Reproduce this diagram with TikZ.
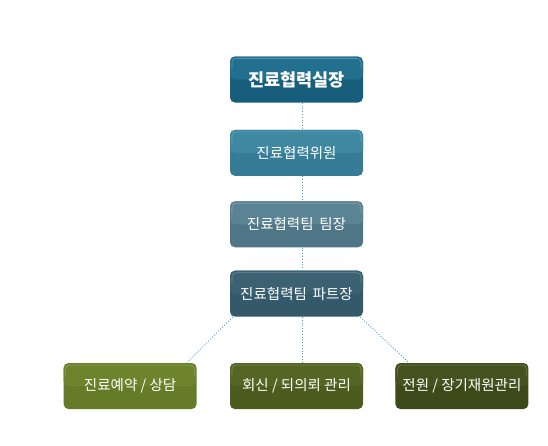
\documentclass[tikz,border=0pt]{standalone}
\usepackage{fontspec}
\setmainfont{Noto Sans CJK KR}
\usetikzlibrary{positioning}
\definecolor{ChiefTop}{HTML}{22708D}
\definecolor{ChiefBot}{HTML}{175E7C}
\definecolor{CommTop}{HTML}{3E88A2}
\definecolor{CommBot}{HTML}{367C96}
\definecolor{TeamTop}{HTML}{5A8393}
\definecolor{TeamBot}{HTML}{4F7686}
\definecolor{PartTop}{HTML}{3B6172}
\definecolor{PartBot}{HTML}{33596A}
\definecolor{ResTop}{HTML}{6E842C}
\definecolor{ResBot}{HTML}{667B27}
\definecolor{RepTop}{HTML}{546524}
\definecolor{RepBot}{HTML}{4C5C1F}
\definecolor{TrnTop}{HTML}{44521F}
\definecolor{TrnBot}{HTML}{3C4919}
\definecolor{LinkBlue}{HTML}{4A9AD6}

\begin{document}
\begin{tikzpicture}[
    x=1pt, y=1pt,
    unitbox/.style 2 args={rectangle, rounded corners=5pt, minimum width=133pt, minimum height=46pt,
                text=white, align=center, font=\fontsize{14.5}{16}\selectfont, inner sep=0pt,
                fill=#2, path picture={
                    \fill[#1] (path picture bounding box.north west) rectangle (path picture bounding box.east);
                    \draw[white, opacity=0.25, line width=0.6pt, rounded corners=4pt]
                        ([shift={(2pt,-12pt)}]path picture bounding box.north west) |-
                        ([shift={(-2pt,-2pt)}]path picture bounding box.north east) -- ++(0,-10pt);
                }},
    link/.style={draw=LinkBlue, dash pattern=on 1pt off 1.8pt, line width=0.9pt}
]
    \useasboundingbox (0,0) rectangle (548,-445);

    % Chain of command
    \node[unitbox={ChiefTop}{ChiefBot}, font=\fontsize{17.5}{19}\selectfont\bfseries] (chief) at (296.5,-79.5) {진료협력실장};
    \node[unitbox={CommTop}{CommBot}, below=27pt of chief] (committee) {진료협력위원};
    \node[unitbox={TeamTop}{TeamBot}, below=25pt of committee] (teamlead) {진료협력팀\hspace{0.4em}팀장};
    \node[unitbox={PartTop}{PartBot}, below=23pt of teamlead] (partlead) {진료협력팀\hspace{0.4em}파트장};

    % Working units
    \node[unitbox={RepTop}{RepBot}, below=46pt of partlead] (reply) {회신 / 되의뢰 관리};
    \node[unitbox={ResTop}{ResBot}, left=33pt of reply] (reserve) {진료예약 / 상담};
    \node[unitbox={TrnTop}{TrnBot}, right=32pt of reply] (transfer) {전원 / 장기재원관리};

    % Connectors
    \draw[link] ([xshift=5.5pt]chief.south) -- ([xshift=5.5pt]committee.north);
    \draw[link] ([xshift=5.5pt]committee.south) -- ([xshift=5.5pt]teamlead.north);
    \draw[link] ([xshift=5.5pt]teamlead.south) -- ([xshift=5.5pt]partlead.north);
    \draw[link] ([xshift=5.5pt]partlead.south) -- ([xshift=5.5pt]reply.north);
    \draw[link] ([xshift=3pt]partlead.south west) -- ([xshift=-10pt]reserve.north east);
    \draw[link] ([xshift=-3pt]partlead.south east) -- ([xshift=14pt]transfer.north west);
\end{tikzpicture}
\end{document}
